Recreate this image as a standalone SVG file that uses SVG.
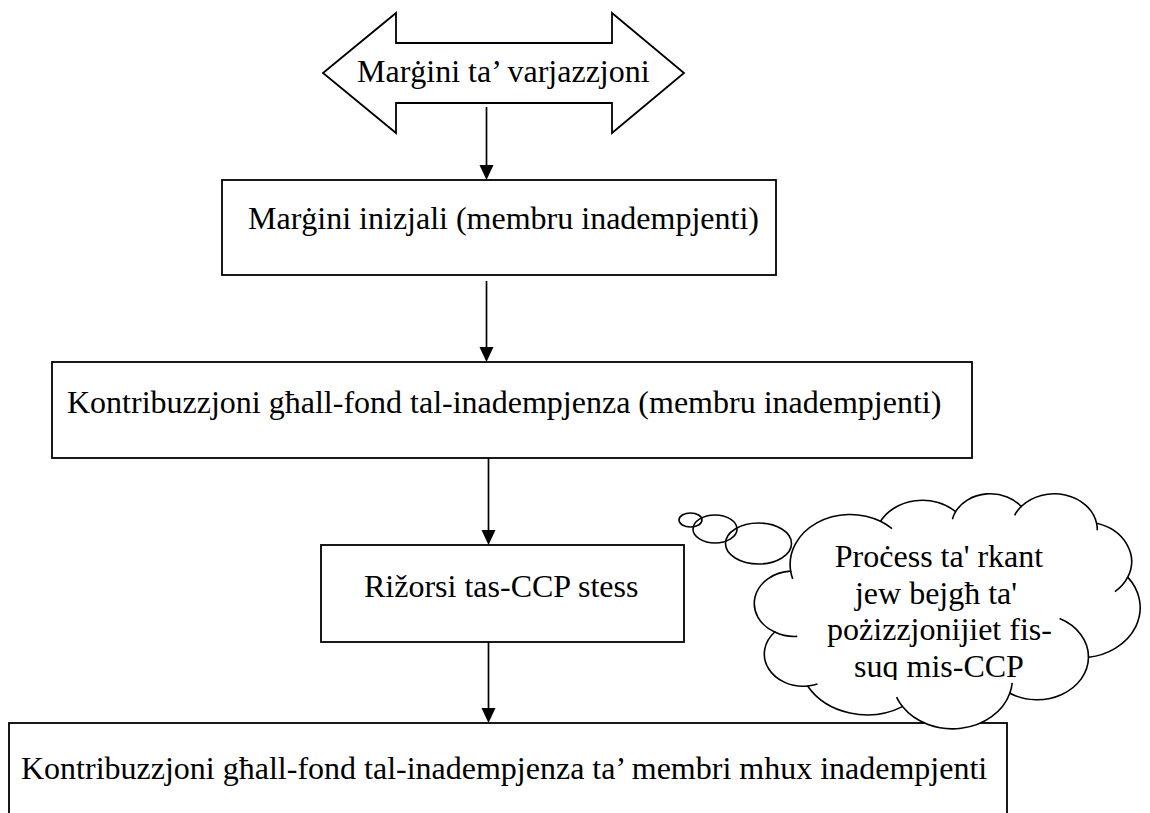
<svg xmlns="http://www.w3.org/2000/svg" width="1150" height="813" viewBox="0 0 1150 813">
<style>
.shape{fill:#fff;stroke:#000;stroke-width:1.8}
.cloud{fill:#fff;stroke:#000;stroke-width:1.6}
.hook{fill:none;stroke:#000;stroke-width:1.6}
.bub{fill:none;stroke:#000;stroke-width:1.6}
.conn{fill:none;stroke:#000;stroke-width:1.7;marker-end:url(#ah)}
.t{font-family:"Liberation Serif","Times New Roman",serif;font-size:32px;fill:#000}
</style>
<defs>
<marker id="ah" markerUnits="userSpaceOnUse" markerWidth="16" markerHeight="15" refX="5" refY="7" orient="auto">
<path d="M0,0 L15,7 L0,14 Z" fill="#000"/>
</marker>
<clipPath id="cloudclip"><rect x="740" y="480" width="410" height="200"/></clipPath>
</defs>
<rect width="1150" height="813" fill="#fff"/>
<g id="connectors">
<line class="conn" x1="486.5" y1="107" x2="486.5" y2="170"/>
<line class="conn" x1="486.5" y1="281" x2="486.5" y2="352"/>
<line class="conn" x1="488.5" y1="455" x2="488.5" y2="535"/>
<line class="conn" x1="488.5" y1="637" x2="488.5" y2="713"/>
</g>
<g id="node-variation-margin">
<polygon class="shape" points="323,73 396,13 396,43 612,43 612,13 684,73 612,133 612,103 396,103 396,133"/>
<text class="t" x="357" y="82">Marġini ta’ varjazzjoni</text>
</g>
<g id="node-initial-margin">
<rect class="shape" x="222" y="180" width="554" height="95"/>
<text class="t" x="248" y="229">Marġini inizjali (membru inadempjenti)</text>
</g>
<g id="node-default-fund-defaulter">
<rect class="shape" x="52" y="362" width="920" height="96"/>
<text class="t" x="67" y="413">Kontribuzzjoni għall-fond tal-inadempjenza (membru inadempjenti)</text>
</g>
<g id="node-ccp-resources">
<rect class="shape" x="321" y="545" width="363" height="97"/>
<text class="t" x="364" y="597">Rižorsi tas-CCP stess</text>
</g>
<g id="node-default-fund-non-defaulting">
<rect class="shape" x="9" y="723" width="998" height="120"/>
<text class="t" x="21" y="779">Kontribuzzjoni għall-fond tal-inadempjenza ta’ membri mhux inadempjenti</text>
</g>
<g id="node-auction-cloud">
<ellipse class="bub" cx="690.5" cy="520" rx="11.5" ry="7"/>
<ellipse class="bub" cx="715" cy="529" rx="22" ry="14"/>
<ellipse class="bub" cx="758.5" cy="543.5" rx="33" ry="20.5"/>
<path class="cloud" d="M790.67,571.17 A60.03,49.99 0 0 1 880.49,521.30 A47.40,39.53 0 0 1 955.61,511.67 A38.80,32.34 0 0 1 1021.18,506.50 A43.17,35.88 0 0 1 1096.60,523.34 A47.40,39.56 0 0 1 1127.72,577.10 A60.22,50.15 0 0 1 1088.48,657.30 A51.42,42.80 0 0 1 1009.83,693.26 A60.02,50.13 0 0 1 902.50,706.61 A68.62,57.35 0 0 1 807.61,685.97 A38.76,32.19 0 0 1 774.78,632.01 A38.62,32.34 0 0 1 790.67,571.17 Z"/>
<path class="hook" d="M797.29,636.34 A38.62,32.34 0 0 1 774.78,632.01 M817.47,683.89 A38.76,32.19 0 0 1 807.61,685.97 M902.50,706.61 A60.02,50.13 0 0 1 896.55,697.13 M1012.20,682.88 A60.02,50.13 0 0 1 1009.83,693.26 M1059.58,618.48 A51.42,42.80 0 0 1 1088.48,657.30 M1127.72,577.10 A47.40,39.56 0 0 1 1114.85,591.66 M1096.60,523.34 A43.17,35.88 0 0 1 1097.28,530.21 M1014.59,515.28 A43.17,35.88 0 0 1 1021.18,506.50 M952.42,519.24 A38.80,32.34 0 0 1 955.61,511.67 M880.49,521.30 A60.03,49.99 0 0 1 892.04,528.64 M792.68,578.89 A60.03,49.99 0 0 1 790.67,571.17"/>
<g clip-path="url(#cloudclip)" text-anchor="middle">
<text class="t" x="939" y="567">Proċess ta' rkant</text>
<text class="t" x="936" y="603.7">jew bejgħ ta'</text>
<text class="t" x="939.5" y="640.4">pożizzjonijiet fis-</text>
<text class="t" x="939" y="677">suq mis-CCP</text>
</g>
</g>
</svg>
